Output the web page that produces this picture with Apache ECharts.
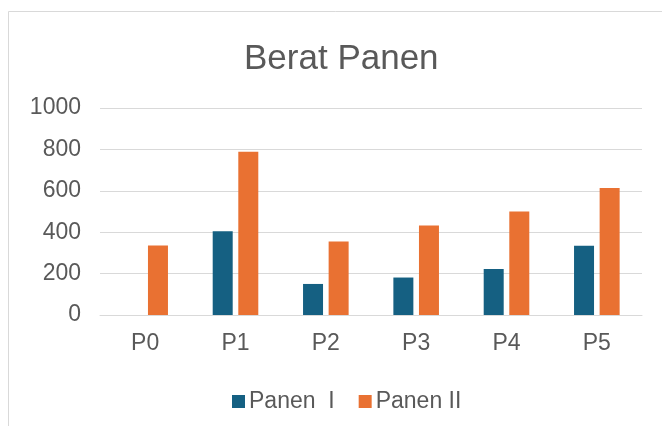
<!DOCTYPE html>
<html>
<head>
<meta charset="utf-8">
<script src="https://cdn.jsdelivr.net/npm/echarts@6/dist/echarts.min.js"></script>
<style>
  html, body { margin: 0; padding: 0; background: #fff; }
  #chart { width: 662px; height: 426px; }
</style>
</head>
<body>
<div id="chart"></div>
<script>
// data
var categories = ['P0', 'P1', 'P2', 'P3', 'P4', 'P5'];
var panen1 = [0, 405, 150, 181, 222, 334];
var panen2 = [336, 789, 355, 432, 500, 613];
var yTicks = [0, 200, 400, 600, 800, 1000];

var textColor = '#595959';
var fontFam = '"Liberation Sans", Arial, sans-serif';

var myChart = echarts.init(document.getElementById('chart'));
var option = {
  backgroundColor: '#fff',
  animation: false,
  graphic: [
    {
      type: 'rect',
      shape: { x: 8.5, y: 11.5, width: 700, height: 500 },
      style: { fill: 'none', stroke: '#d9d9d9', lineWidth: 1 },
      silent: true
    }
  ],
  title: {
    text: 'Berat Panen',
    left: 239,
    top: 37,
    textStyle: { color: textColor, fontSize: 35, fontWeight: 'normal', fontFamily: fontFam }
  },
  legend: {
    data: ['Panen  I', 'Panen II'],
    left: 227,
    top: 385,
    itemWidth: 13,
    itemHeight: 13,
    itemGap: 24,
    icon: 'rect',
    textStyle: { color: textColor, fontSize: 23, fontFamily: fontFam, padding: [0, 0, 0, -1] }
  },
  grid: {
    left: 100,
    right: 20,
    top: 108,
    bottom: 111
  },
  xAxis: {
    type: 'category',
    data: categories,
    axisTick: { show: false },
    axisLine: { lineStyle: { color: '#d9d9d9', width: 1 } },
    axisLabel: { color: textColor, fontSize: 23, fontFamily: fontFam, margin: 17 }
  },
  yAxis: {
    type: 'value',
    min: yTicks[0],
    max: yTicks[yTicks.length - 1],
    interval: yTicks[1] - yTicks[0],
    axisLine: { show: false },
    axisTick: { show: false },
    splitLine: { lineStyle: { color: '#d9d9d9', width: 1 } },
    axisLabel: {
      color: textColor, fontSize: 23, fontFamily: fontFam, margin: 19,
      formatter: function (v) { return String(v); }
    }
  },
  series: [
    {
      name: 'Panen  I',
      type: 'bar',
      barWidth: 20,
      barGap: '28%',
      itemStyle: { color: '#156082' },
      data: panen1
    },
    {
      name: 'Panen II',
      type: 'bar',
      barWidth: 20,
      barGap: '28%',
      itemStyle: { color: '#E97132' },
      data: panen2
    }
  ]
};
myChart.setOption(option);
</script>
</body>
</html>
